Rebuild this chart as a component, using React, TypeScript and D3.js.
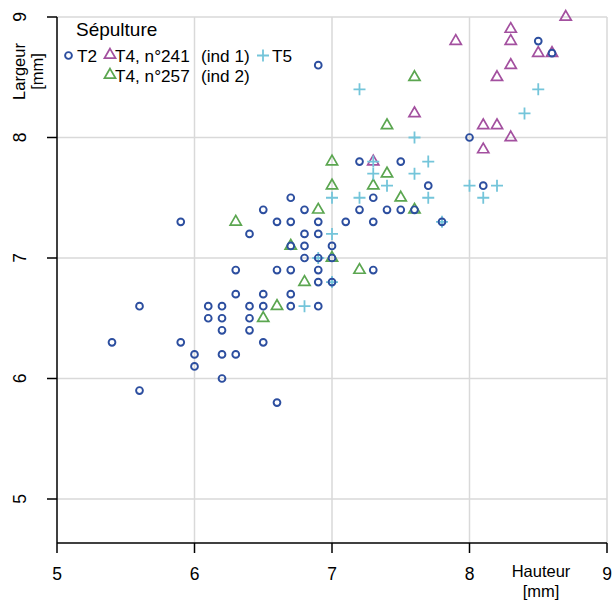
import React from "react";
import * as d3 from "d3";

// hauteur / largeur in mm, one list per sepulture
const t2 = [
  [5.4, 6.3], [5.6, 6.6], [5.6, 5.9], [5.9, 7.3], [5.9, 6.3], [6.0, 6.2], [6.0, 6.1],
  [6.1, 6.6], [6.1, 6.5], [6.2, 6.6], [6.2, 6.5], [6.2, 6.4], [6.2, 6.2], [6.2, 6.0],
  [6.3, 6.9], [6.3, 6.7], [6.3, 6.2], [6.4, 7.2], [6.4, 6.6], [6.4, 6.5], [6.4, 6.4],
  [6.5, 7.4], [6.5, 6.7], [6.5, 6.6], [6.5, 6.3], [6.6, 7.3], [6.6, 6.9], [6.6, 5.8],
  [6.7, 7.5], [6.7, 7.3], [6.7, 7.1], [6.7, 6.9], [6.7, 6.7], [6.7, 6.6], [6.8, 7.4],
  [6.8, 7.2], [6.8, 7.1], [6.8, 7.0], [6.9, 8.6], [6.9, 7.3], [6.9, 7.2], [6.9, 7.0],
  [6.9, 6.9], [6.9, 6.8], [6.9, 6.6], [7.0, 7.1], [7.0, 7.0], [7.0, 6.8], [7.1, 7.3],
  [7.2, 7.8], [7.2, 7.4], [7.3, 7.5], [7.3, 7.3], [7.3, 6.9], [7.4, 7.4], [7.5, 7.8],
  [7.5, 7.4], [7.6, 7.4], [7.7, 7.6], [7.8, 7.3], [8.0, 8.0], [8.1, 7.6], [8.5, 8.8],
  [8.6, 8.7],
];
const t4ind1 = [
  [7.3, 7.8], [7.6, 8.2], [7.9, 8.8], [8.1, 8.1], [8.1, 7.9], [8.2, 8.5], [8.2, 8.1],
  [8.3, 8.9], [8.3, 8.8], [8.3, 8.6], [8.3, 8.0], [8.5, 8.7], [8.6, 8.7], [8.7, 9.0],
];
const t4ind2 = [
  [6.3, 7.3], [6.5, 6.5], [6.6, 6.6], [6.7, 7.1], [6.8, 6.8], [6.9, 7.4], [7.0, 7.8],
  [7.0, 7.6], [7.0, 7.0], [7.2, 6.9], [7.3, 7.6], [7.4, 8.1], [7.4, 7.7], [7.5, 7.5],
  [7.6, 8.5], [7.6, 7.4],
];
const t5 = [
  [6.8, 6.6], [6.9, 7.0], [7.0, 7.5], [7.0, 7.2], [7.0, 6.8], [7.2, 8.4], [7.2, 7.5],
  [7.3, 7.8], [7.3, 7.7], [7.4, 7.6], [7.6, 8.0], [7.6, 7.7], [7.7, 7.8], [7.7, 7.5],
  [7.8, 7.3], [8.0, 7.6], [8.1, 7.5], [8.2, 7.6], [8.4, 8.2], [8.5, 8.4],
];

const xTicks = [5, 6, 7, 8, 9];
const yTicks = [5, 6, 7, 8, 9];

const BLUE = "#2c4e9f";
const PURPLE = "#a3509f";
const GREEN = "#5ba650";
const CYAN = "#74c5da";
const FONT = "'Liberation Sans', Arial, sans-serif";

const left = 57;
const right = 607;
const top = 17;
const bottom = 543;

const x = d3.scaleLinear().domain([5, 9]).range([left, right]);
const y = d3.scaleLinear().domain([5, 9]).range([499, top]);

const tri = d3.symbol(d3.symbolTriangle, 54)();

const Circle = ({ cx, cy }) => (
  <circle cx={cx} cy={cy} r={3.4} fill="none" stroke={BLUE} strokeWidth={1.9} />
);
const Tri = ({ cx, cy, color }) => (
  <path d={tri} transform={`translate(${cx},${cy})`} fill="none" stroke={color} strokeWidth={1.7} />
);
const Cross = ({ cx, cy }) => (
  <path d={`M${cx - 6},${cy}H${cx + 6}M${cx},${cy - 6}V${cy + 6}`} stroke={CYAN} strokeWidth={1.8} fill="none" />
);

export default function App() {
  return (
    <svg width={612} height={601} style={{ position: "absolute", left: 0, top: 0 }} fontFamily={FONT}>
      <rect width={612} height={601} fill="white" />
      {/* grid */}
      <g stroke="#d9d9d9" strokeWidth={1.5}>
        {xTicks.slice(1).map((t) => (
          <line key={"gx" + t} x1={x(t)} x2={x(t)} y1={top} y2={bottom} />
        ))}
        {yTicks.map((t) => (
          <line key={"gy" + t} x1={left} x2={right} y1={y(t)} y2={y(t)} />
        ))}
      </g>

      {/* points */}
      {t4ind1.map((d, i) => <Tri key={"p" + i} cx={x(d[0])} cy={y(d[1])} color={PURPLE} />)}
      {t4ind2.map((d, i) => <Tri key={"g" + i} cx={x(d[0])} cy={y(d[1])} color={GREEN} />)}
      {t5.map((d, i) => <Cross key={"c" + i} cx={x(d[0])} cy={y(d[1])} />)}
      {t2.map((d, i) => <Circle key={"b" + i} cx={x(d[0])} cy={y(d[1])} />)}

      {/* axes */}
      <g stroke="black" strokeWidth={1.5}>
        <line x1={left} x2={left} y1={top} y2={bottom} />
        <line x1={left} x2={right} y1={bottom} y2={bottom} />
        {yTicks.map((t) => (
          <line key={"ty" + t} x1={left - 10} x2={left} y1={y(t)} y2={y(t)} />
        ))}
        {xTicks.map((t) => (
          <line key={"tx" + t} x1={x(t)} x2={x(t)} y1={bottom} y2={bottom + 10} />
        ))}
      </g>
      <g fontSize={17.5} fill="black">
        {xTicks.map((t) => (
          <text key={"lx" + t} x={x(t)} y={580} textAnchor="middle">{t}</text>
        ))}
        {yTicks.map((t) => (
          <text key={"ly" + t} transform={`translate(26,${y(t)}) rotate(-90)`} textAnchor="middle">{t}</text>
        ))}
      </g>
      <g fontSize={16.5} fill="black">
        <text x={541} y={577} textAnchor="middle">Hauteur</text>
        <text x={541} y={596.5} textAnchor="middle">[mm]</text>
        <text transform="translate(24.5,71.5) rotate(-90)" textAnchor="middle">Largeur</text>
        <text transform="translate(42.5,71.5) rotate(-90)" textAnchor="middle">[mm]</text>
      </g>

      {/* legend */}
      <g fill="black">
        <text x={76} y={35.5} fontSize={19}>Sépulture</text>
        <g fontSize={17.2}>
          <Circle cx={68.5} cy={55.5} />
          <text x={77} y={61.7}>T2</text>
          <Tri cx={110} cy={55} color={PURPLE} />
          <text x={115} y={61.7}>T4, n°241</text>
          <text x={201} y={61.7}>(ind 1)</text>
          <Cross cx={263} cy={55.5} />
          <text x={272} y={61.7}>T5</text>
          <Tri cx={110} cy={75} color={GREEN} />
          <text x={115} y={81.7}>T4, n°257</text>
          <text x={201} y={81.7}>(ind 2)</text>
        </g>
      </g>
    </svg>
  );
}
